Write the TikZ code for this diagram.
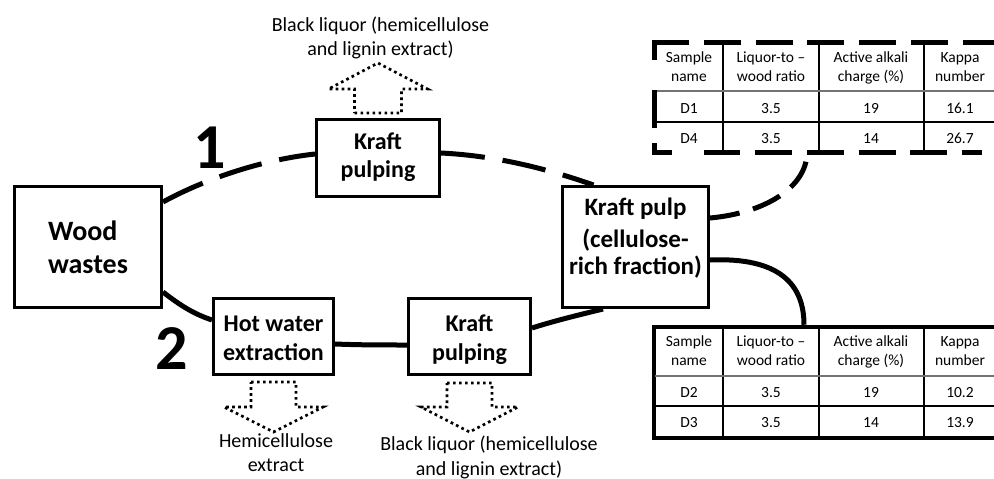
\documentclass[tikz,border=0pt]{standalone}
\usepackage{fontspec}
\setmainfont{Carlito}
\usetikzlibrary{backgrounds}
\newcommand{\toprule}[1]{\rule{0pt}{#1pt}}
\newcommand{\botrule}[1]{\rule[-#1pt]{0pt}{#1pt}}
\begin{document}
\begin{tikzpicture}[x=1pt,y=-1pt,
  box/.style={draw,line width=3pt,fill=white,align=center,inner sep=0pt,font=\bfseries\fontsize{24}{28}\selectfont},
  conn/.style={line width=5pt},
  dconn/.style={line width=5pt,dash pattern=on 44pt off 18pt},
  outflow/.style={draw,line width=2.7pt,dash pattern=on 2.7pt off 3.3pt,line join=miter},
  lbl/.style={align=center,font=\fontsize{20}{24.5}\selectfont,inner sep=0pt,
    execute at begin node=\strut,execute at end node=\strut},
  cell/.style={align=center,font=\fontsize{15.5}{19}\selectfont,inner sep=0pt,
    execute at begin node=\strut,execute at end node=\strut},
  num/.style={font=\bfseries\fontsize{64}{66}\selectfont,inner sep=0pt},
  tline/.style={line width=1.3pt},
  hline/.style={line width=1.1pt,black!55},
  tabdash/.style={line width=5pt}]
\useasboundingbox (0,0) rectangle (994,479);

% process boxes
\node[box,align=left,font=\bfseries\fontsize{28}{33}\selectfont,minimum width=147,minimum height=121] (wood) at (88,247)
  {\toprule{27}Wood\\wastes\botrule{8}};
\node[box,minimum width=123,minimum height=77] (kpT) at (378,158) {\toprule{18}Kraft\\pulping\botrule{8}};
\node[box,font=\bfseries\fontsize{24}{29}\selectfont,minimum width=120,minimum height=76] (hw) at (273.5,336.5)
  {\toprule{26}Hot water\\extraction\botrule{8}};
\node[box,font=\bfseries\fontsize{24}{29}\selectfont,minimum width=122,minimum height=76] (kpB) at (469.5,336.5)
  {\toprule{26}Kraft\\pulping\botrule{8}};
\node[box,font=\bfseries\fontsize{25}{27}\selectfont,minimum width=146,minimum height=121] (pulp) at (635.5,247)
  {\toprule{20}Kraft pulp\\[5pt](cellulose-\\rich fraction)\botrule{25}};

% route numbers
\node[num] (n1) at (209.5,147.5) {1};
\node[num] (n2) at (171.5,348.5) {2};

% side-stream labels
\node[lbl] (blT) at (380.5,39.9) {Black liquor (hemicellulose\\and lignin extract)};
\node[lbl] (hemi) at (276,456.1) {Hemicellulose\\extract};
\node[lbl] (blB) at (489,459.6) {Black liquor (hemicellulose\\and lignin extract)};

% dotted outflow arrows
\draw[outflow,shift={(kpT.north)}] (-23.5,-5) -- (23.5,-5) -- (23.5,-29) -- (49.5,-29) -- (0,-55) -- (-49.5,-29) -- (-23.5,-29) -- cycle;
\draw[outflow,shift={(hw.south)}] (-22.5,6) -- (22.5,6) -- (22.5,31) -- (49.5,31) -- (0,56) -- (-49.5,31) -- (-22.5,31) -- cycle;
\draw[outflow,shift={(kpB.south)}] (-22.5,7) -- (22.5,7) -- (22.5,31) -- (48.5,31) -- (0,56) -- (-48.5,31) -- (-22.5,31) -- cycle;

% tables (frames)
\node[minimum width=341,minimum height=109,inner sep=0pt] (tabA) at (825.5,97.5) {};
\node[draw,line width=4.5pt,minimum width=342,minimum height=111,inner sep=0pt] (tabB) at (825,382.5) {};
\coordinate (ta) at ([xshift=-18.5]tabA.south);
\coordinate (tb) at ([xshift=-21]tabB.north);

\draw[tline] (723,43) -- (723,152) (819,43) -- (819,152) (924,43) -- (924,152) (655,122) -- (996,122);
\draw[hline] (655,91) -- (996,91);
\draw[tline] (723,327) -- (723,438) (819,327) -- (819,438) (924,327) -- (924,438) (655,406) -- (996,406);
\draw[hline] (655,376) -- (996,376);

\draw[tabdash,dash pattern=on 37pt off 14.7pt] ([xshift=-2.5]tabA.north west) -- ([xshift=2.5]tabA.north east);
\draw[tabdash,dash pattern=on 20pt off 30pt on 38pt off 15pt on 20pt off 30pt] ([yshift=2.5]tabA.north west) -- ([yshift=-2.5]tabA.south west);
\draw[tabdash,dash pattern=on 20pt off 32pt on 36pt off 15pt on 37pt off 14.7pt on 37pt off 14.7pt on 37pt off 14.7pt on 37pt off 14.7pt] ([xshift=-2.5]tabA.south west) -- ([xshift=2.5]tabA.south east);

\node[cell] (a11) at (689,69.7) {Sample\\name};
\node[cell] (a12) at (771,69.7) {Liquor-to --\\wood ratio};
\node[cell] (a13) at (871,69.7) {Active alkali\\charge (\%)};
\node[cell] (a14) at (960,69.7) {Kappa\\number};
\node[cell] (a21) at (689,109.2) {D1};
\node[cell] (a22) at (771,109.2) {3.5};
\node[cell] (a23) at (871,109.2) {19};
\node[cell] (a24) at (960,109.2) {16.1};
\node[cell] (a31) at (689,139.2) {D4};
\node[cell] (a32) at (771,139.2) {3.5};
\node[cell] (a33) at (871,139.2) {14};
\node[cell] (a34) at (960,139.2) {26.7};

\node[cell] (b11) at (689,353.7) {Sample\\name};
\node[cell] (b12) at (771,353.7) {Liquor-to --\\wood ratio};
\node[cell] (b13) at (871,353.7) {Active alkali\\charge (\%)};
\node[cell] (b14) at (960,353.7) {Kappa\\number};
\node[cell] (b21) at (689,393.2) {D2};
\node[cell] (b22) at (771,393.2) {3.5};
\node[cell] (b23) at (871,393.2) {19};
\node[cell] (b24) at (960,393.2) {10.2};
\node[cell] (b31) at (689,423.2) {D3};
\node[cell] (b32) at (771,423.2) {3.5};
\node[cell] (b33) at (871,423.2) {14};
\node[cell] (b34) at (960,423.2) {13.9};

% connectors
\begin{pgfonlayer}{background}
\draw[dconn] ([yshift=45]wood.east) .. controls +(40,-22) and +(-55,6) .. ([yshift=4]kpT.west);
\draw[dconn] ([yshift=5]kpT.east) .. controls +(60,3) and +(-40,-14) .. ([xshift=-42]pulp.north);
\draw[conn] ([yshift=-45]wood.east) .. controls +(18,14) and +(-18,-6) .. ([yshift=16.5]hw.west);
\draw[conn] ([yshift=-7.5]hw.east) .. controls +(25,1) and +(-25,0) .. ([yshift=-8.5]kpB.west);
\draw[conn] ([yshift=8.5]kpB.east) .. controls +(25,-8) and +(-20,5) .. ([xshift=-32.5]pulp.south);
\draw[dconn,dash pattern=on 30pt off 14pt] ([yshift=29]pulp.east) .. controls +(55,-5) and +(0,35) .. (ta);
\draw[conn] ([yshift=-13]pulp.east) .. controls +(70,-3) and +(0,-40) .. (tb);
\end{pgfonlayer}
\end{tikzpicture}
\end{document}
